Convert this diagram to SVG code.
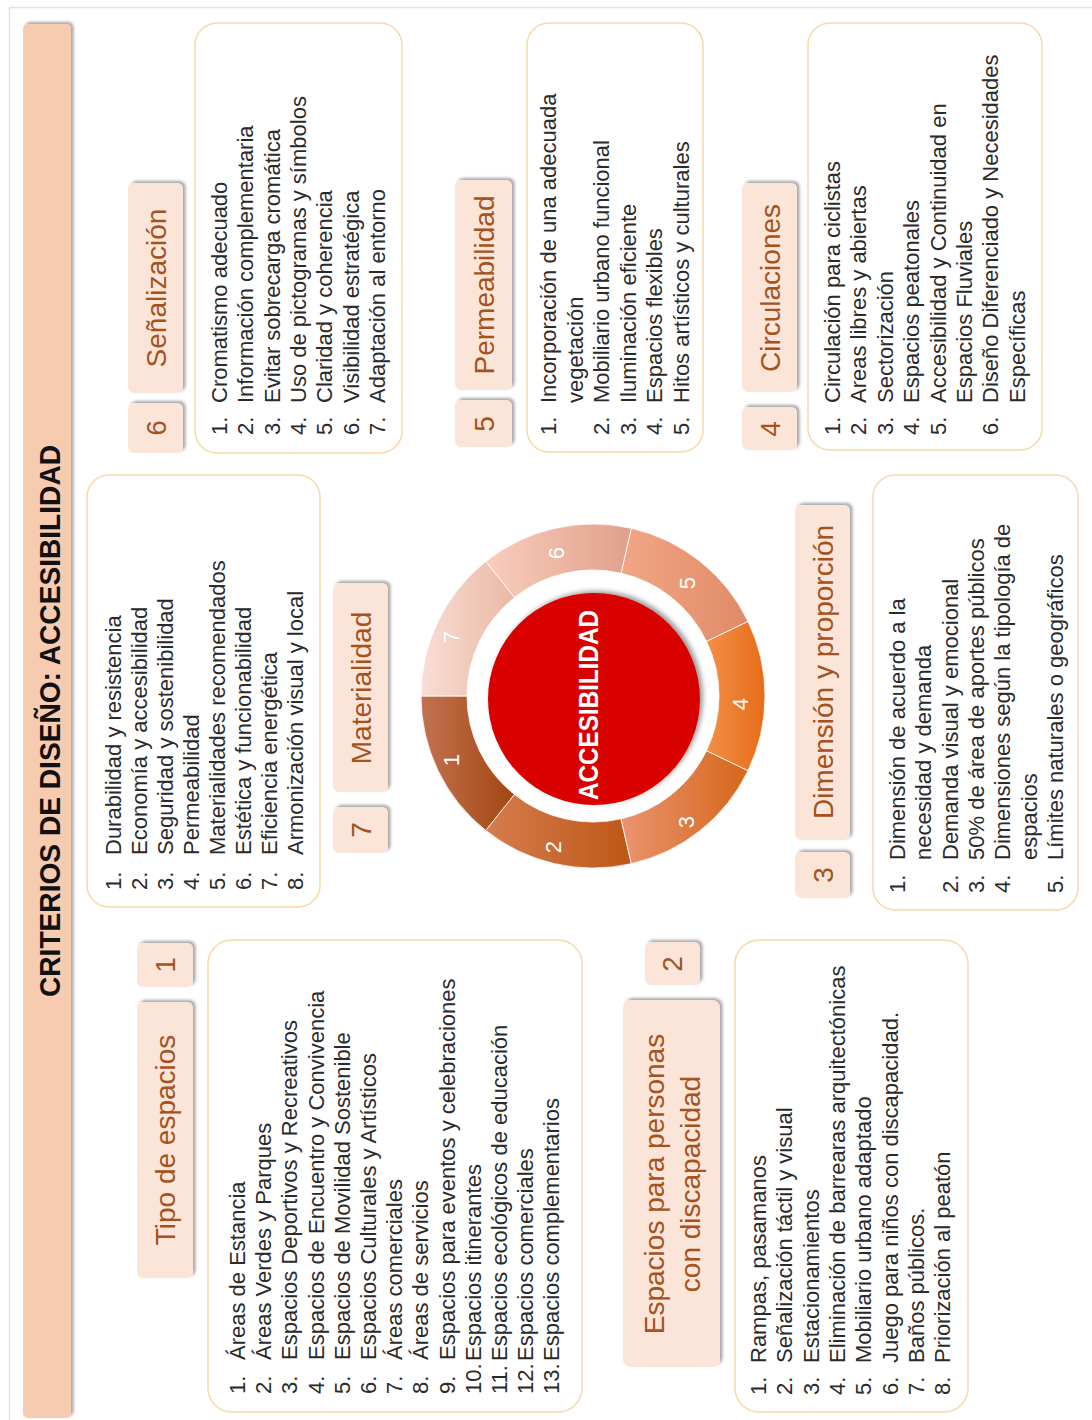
<svg xmlns="http://www.w3.org/2000/svg" width="1092" height="1420" viewBox="0 0 1092 1420">
<style>
.t{font-family:"Liberation Sans",Arial,sans-serif;}
.li{font-family:"Liberation Sans",Arial,sans-serif;font-size:22px;fill:#2a2a2a;}
.hd{fill:#fbe5d8;filter:url(#sh);}
.ht{font-family:"Liberation Sans",Arial,sans-serif;font-size:28px;fill:#a5521c;text-anchor:middle;}
.box{fill:#ffffff;stroke:#f7d9a9;stroke-width:1.5;}
.rn{font-family:"Liberation Sans",Arial,sans-serif;font-size:22px;fill:#ffffff;text-anchor:middle;}
.seg{stroke:#ffffff;stroke-width:0.8;}
</style>
<defs>
<filter id="sh" x="-20%" y="-20%" width="140%" height="140%">
<feDropShadow dx="2" dy="2.5" stdDeviation="1.5" flood-color="#000" flood-opacity="0.35"/>
</filter>
<filter id="sh2" x="-20%" y="-20%" width="140%" height="140%">
<feDropShadow dx="3" dy="-2" stdDeviation="2.5" flood-color="#000" flood-opacity="0.4"/>
</filter>
<linearGradient id="g1" x1="0" y1="0" x2="1" y2="0"><stop offset="0" stop-color="#c27252"/><stop offset="1" stop-color="#a3460f"/></linearGradient>
<linearGradient id="g2" x1="0" y1="0" x2="1" y2="0"><stop offset="0" stop-color="#d67c4e"/><stop offset="1" stop-color="#bd5716"/></linearGradient>
<linearGradient id="g3" x1="0" y1="0" x2="1" y2="0"><stop offset="0" stop-color="#ea9470"/><stop offset="1" stop-color="#d6661a"/></linearGradient>
<linearGradient id="g4" x1="0" y1="0" x2="1" y2="0"><stop offset="0" stop-color="#f39048"/><stop offset="1" stop-color="#e56c18"/></linearGradient>
<linearGradient id="g5" x1="0" y1="0" x2="1" y2="0"><stop offset="0" stop-color="#f3a684"/><stop offset="1" stop-color="#df8a68"/></linearGradient>
<linearGradient id="g6" x1="0" y1="0" x2="1" y2="0"><stop offset="0" stop-color="#f9cdbd"/><stop offset="1" stop-color="#e0a08a"/></linearGradient>
<linearGradient id="g7" x1="0" y1="0" x2="1" y2="0"><stop offset="0" stop-color="#f9ddd4"/><stop offset="1" stop-color="#e9b9a4"/></linearGradient>
</defs>
<rect x="9.5" y="7.5" width="1090" height="1420" fill="#ffffff" stroke="#e2e2e2" stroke-width="1.5"/>

<g transform="translate(0,1420) rotate(-90)">
  <g id="title">
    <rect x="2" y="23" width="1394" height="48" rx="5" fill="#f7cbb0" filter="url(#sh)"/>
    <text class="t" x="699" y="60" font-size="30" font-weight="bold" fill="#111" text-anchor="middle" textLength="552" lengthAdjust="spacingAndGlyphs">CRITERIOS DE DISEÑO: ACCESIBILIDAD</text>
  </g>

  <g id="node1">
    <rect class="hd" x="142" y="137" width="276" height="56" rx="6"/>
    <text class="ht" x="280" y="175">Tipo de espacios</text>
    <rect class="hd" x="433" y="137" width="44" height="56" rx="6"/>
    <text class="ht" x="455" y="175">1</text>
    <rect class="box" x="8" y="208" width="472" height="374" rx="24"/>
    <text class="li" x="26" y="245">1.</text><text class="li" x="60" y="245">Áreas de Estancia</text>
    <text class="li" x="26" y="271.2">2.</text><text class="li" x="60" y="271.2">Áreas Verdes y Parques</text>
    <text class="li" x="26" y="297.4">3.</text><text class="li" x="60" y="297.4">Espacios Deportivos y Recreativos</text>
    <text class="li" x="26" y="323.6">4.</text><text class="li" x="60" y="323.6">Espacios de Encuentro y Convivencia</text>
    <text class="li" x="26" y="349.8">5.</text><text class="li" x="60" y="349.8">Espacios de Movilidad Sostenible</text>
    <text class="li" x="26" y="376">6.</text><text class="li" x="60" y="376">Espacios Culturales y Artísticos</text>
    <text class="li" x="26" y="402.2">7.</text><text class="li" x="60" y="402.2">Áreas comerciales</text>
    <text class="li" x="26" y="428.4">8.</text><text class="li" x="60" y="428.4">Áreas de servicios</text>
    <text class="li" x="26" y="454.6">9.</text><text class="li" x="60" y="454.6">Espacios para eventos y celebraciones</text>
    <text class="li" x="26" y="480.8">10.</text><text class="li" x="59" y="480.8">Espacios itinerantes</text>
    <text class="li" x="26" y="507">11.</text><text class="li" x="59" y="507">Espacios ecológicos de educación</text>
    <text class="li" x="26" y="533.2">12.</text><text class="li" x="59" y="533.2">Espacios comerciales</text>
    <text class="li" x="26" y="559.4">13.</text><text class="li" x="59" y="559.4">Espacios complementarios</text>
  </g>

  <g id="node2">
    <rect class="hd" x="53" y="623" width="367" height="97" rx="8"/>
    <text class="ht" x="236" y="664">Espacios para personas</text>
    <text class="ht" x="236" y="700">con discapacidad</text>
    <rect class="hd" x="435" y="645" width="43" height="55" rx="6"/>
    <text class="ht" x="456" y="682">2</text>
    <rect class="box" x="8" y="735" width="472" height="233" rx="24"/>
    <text class="li" x="25" y="766">1.</text><text class="li" x="57" y="766">Rampas, pasamanos</text>
    <text class="li" x="25" y="792.3">2.</text><text class="li" x="57" y="792.3">Señalización táctil y visual</text>
    <text class="li" x="25" y="818.6">3.</text><text class="li" x="57" y="818.6">Estacionamientos</text>
    <text class="li" x="25" y="844.9">4.</text><text class="li" x="57" y="844.9">Eliminación de barrearas arquitectónicas</text>
    <text class="li" x="25" y="871.2">5.</text><text class="li" x="57" y="871.2">Mobiliario urbano adaptado</text>
    <text class="li" x="25" y="897.5">6.</text><text class="li" x="57" y="897.5">Juego para niños con discapacidad.</text>
    <text class="li" x="25" y="923.8">7.</text><text class="li" x="57" y="923.8">Baños públicos.</text>
    <text class="li" x="25" y="950.1">8.</text><text class="li" x="57" y="950.1">Priorización al peatón</text>
  </g>

  <g id="node3">
    <rect class="hd" x="580" y="795" width="335" height="55" rx="6"/>
    <text class="ht" x="748" y="833">Dimensión y proporción</text>
    <rect class="hd" x="522" y="795" width="46" height="55" rx="6"/>
    <text class="ht" x="545" y="833">3</text>
    <rect class="box" x="510" y="873" width="435" height="205" rx="22"/>
    <text class="li" x="527" y="905">1.</text><text class="li" x="560" y="905">Dimensión de acuerdo a la</text>
    <text class="li" x="560" y="931.3">necesidad y demanda</text>
    <text class="li" x="527" y="957.6">2.</text><text class="li" x="560" y="957.6">Demanda visual y emocional</text>
    <text class="li" x="527" y="983.9">3.</text><text class="li" x="560" y="983.9">50% de área de aportes públicos</text>
    <text class="li" x="527" y="1010.2">4.</text><text class="li" x="560" y="1010.2">Dimensiones según la tipología de</text>
    <text class="li" x="560" y="1036.5">espacios</text>
    <text class="li" x="527" y="1062.8">5.</text><text class="li" x="560" y="1062.8">Límites naturales o geográficos</text>
  </g>

  <g id="node4">
    <rect class="hd" x="1028" y="742" width="209" height="55" rx="6"/>
    <text class="ht" x="1132" y="780">Circulaciones</text>
    <rect class="hd" x="970" y="742" width="43" height="55" rx="6"/>
    <text class="ht" x="991" y="780">4</text>
    <rect class="box" x="970" y="808" width="427" height="234" rx="22"/>
    <text class="li" x="985" y="840">1.</text><text class="li" x="1017" y="840">Circulación para ciclistas</text>
    <text class="li" x="985" y="866.4">2.</text><text class="li" x="1017" y="866.4">Areas libres y abiertas</text>
    <text class="li" x="985" y="892.8">3.</text><text class="li" x="1017" y="892.8">Sectorización</text>
    <text class="li" x="985" y="919.2">4.</text><text class="li" x="1017" y="919.2">Espacios peatonales</text>
    <text class="li" x="985" y="945.6">5.</text><text class="li" x="1017" y="945.6">Accesibilidad y Continuidad en</text>
    <text class="li" x="1017" y="972">Espacios Fluviales</text>
    <text class="li" x="985" y="998.4">6.</text><text class="li" x="1017" y="998.4">Diseño Diferenciado y Necesidades</text>
    <text class="li" x="1017" y="1024.8">Específicas</text>
  </g>

  <g id="node5">
    <rect class="hd" x="1030" y="455" width="210" height="57" rx="6"/>
    <text class="ht" x="1135" y="494">Permeabilidad</text>
    <rect class="hd" x="973" y="455" width="47" height="57" rx="6"/>
    <text class="ht" x="996" y="494">5</text>
    <rect class="box" x="968" y="527" width="429" height="176" rx="22"/>
    <text class="li" x="985" y="556">1.</text><text class="li" x="1017" y="556">Incorporación de una adecuada</text>
    <text class="li" x="1017" y="582.5">vegetación</text>
    <text class="li" x="985" y="609">2.</text><text class="li" x="1017" y="609">Mobiliario urbano funcional</text>
    <text class="li" x="985" y="635.5">3.</text><text class="li" x="1017" y="635.5">Iluminación eficiente</text>
    <text class="li" x="985" y="662">4.</text><text class="li" x="1017" y="662">Espacios flexibles</text>
    <text class="li" x="985" y="688.5">5.</text><text class="li" x="1017" y="688.5">Hitos artísticos y culturales</text>
  </g>

  <g id="node6">
    <rect class="hd" x="1027" y="128" width="210" height="55" rx="6"/>
    <text class="ht" x="1132" y="166">Señalización</text>
    <rect class="hd" x="967" y="128" width="50" height="55" rx="6"/>
    <text class="ht" x="992" y="166">6</text>
    <rect class="box" x="967" y="195" width="430" height="207" rx="22"/>
    <text class="li" x="985" y="227">1.</text><text class="li" x="1017" y="227">Cromatismo adecuado</text>
    <text class="li" x="985" y="253.3">2.</text><text class="li" x="1017" y="253.3">Información complementaria</text>
    <text class="li" x="985" y="279.6">3.</text><text class="li" x="1017" y="279.6">Evitar sobrecarga cromática</text>
    <text class="li" x="985" y="305.9">4.</text><text class="li" x="1017" y="305.9">Uso de pictogramas y símbolos</text>
    <text class="li" x="985" y="332.2">5.</text><text class="li" x="1017" y="332.2">Claridad y coherencia</text>
    <text class="li" x="985" y="358.5">6.</text><text class="li" x="1017" y="358.5">Visibilidad estratégica</text>
    <text class="li" x="985" y="384.8">7.</text><text class="li" x="1017" y="384.8">Adaptación al entorno</text>
  </g>

  <g id="node7">
    <rect class="hd" x="628" y="333" width="209" height="55" rx="6"/>
    <text class="ht" x="732" y="371">Materialidad</text>
    <rect class="hd" x="567" y="333" width="46" height="55" rx="6"/>
    <text class="ht" x="590" y="371">7</text>
    <rect class="box" x="513" y="87" width="432" height="233" rx="22"/>
    <text class="li" x="530" y="121">1.</text><text class="li" x="565" y="121">Durabilidad y resistencia</text>
    <text class="li" x="530" y="147">2.</text><text class="li" x="565" y="147">Economía y accesibilidad</text>
    <text class="li" x="530" y="173">3.</text><text class="li" x="565" y="173">Seguridad y sostenibilidad</text>
    <text class="li" x="530" y="199">4.</text><text class="li" x="565" y="199">Permeabilidad</text>
    <text class="li" x="530" y="225">5.</text><text class="li" x="565" y="225">Materialidades recomendados</text>
    <text class="li" x="530" y="251">6.</text><text class="li" x="565" y="251">Estética y funcionabilidad</text>
    <text class="li" x="530" y="277">7.</text><text class="li" x="565" y="277">Eficiencia energética</text>
    <text class="li" x="530" y="303">8.</text><text class="li" x="565" y="303">Armonización visual y local</text>
  </g>
</g>

<g id="ring">
  <path class="seg" fill="url(#g1)" d="M421,696 A172,172 0 0 0 485.76,830.47 L514.44,794.51 A126,126 0 0 1 467,696 Z"/>
  <path class="seg" fill="url(#g2)" d="M485.76,830.47 A172,172 0 0 0 631.27,863.69 L621.04,818.84 A126,126 0 0 1 514.44,794.51 Z"/>
  <path class="seg" fill="url(#g3)" d="M631.27,863.69 A172,172 0 0 0 747.97,770.63 L706.52,750.67 A126,126 0 0 1 621.04,818.84 Z"/>
  <path class="seg" fill="url(#g4)" d="M747.97,770.63 A172,172 0 0 0 747.97,621.37 L706.52,641.33 A126,126 0 0 1 706.52,750.67 Z"/>
  <path class="seg" fill="url(#g5)" d="M747.97,621.37 A172,172 0 0 0 631.27,528.31 L621.04,573.16 A126,126 0 0 1 706.52,641.33 Z"/>
  <path class="seg" fill="url(#g6)" d="M631.27,528.31 A172,172 0 0 0 485.76,561.53 L514.44,597.49 A126,126 0 0 1 621.04,573.16 Z"/>
  <path class="seg" fill="url(#g7)" d="M485.76,561.53 A172,172 0 0 0 421,696 L467,696 A126,126 0 0 1 514.44,597.49 Z"/>
  <text class="rn" transform="translate(451,760) rotate(-90)" y="8">1</text>
  <text class="rn" transform="translate(553,847) rotate(-90)" y="8">2</text>
  <text class="rn" transform="translate(686,822) rotate(-90)" y="8">3</text>
  <text class="rn" transform="translate(740,704) rotate(-90)" y="8">4</text>
  <text class="rn" transform="translate(687,583) rotate(-90)" y="8">5</text>
  <text class="rn" transform="translate(556,553) rotate(-90)" y="8">6</text>
  <text class="rn" transform="translate(451,637) rotate(-90)" y="8">7</text>
</g>

<g id="center">
  <circle cx="594" cy="699" r="106" fill="#d90000" filter="url(#sh2)"/>
  <text class="t" transform="translate(598,705) rotate(-90)" font-size="28" font-weight="bold" fill="#ffffff" text-anchor="middle" textLength="190" lengthAdjust="spacingAndGlyphs">ACCESIBILIDAD</text>
</g>
</svg>
